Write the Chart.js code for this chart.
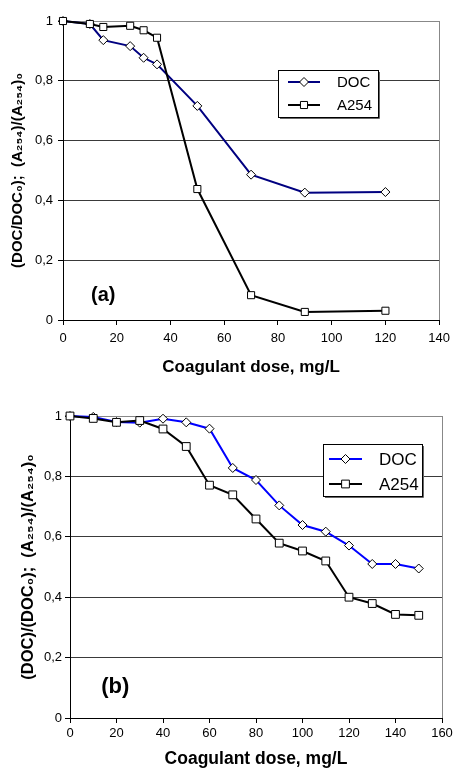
<!DOCTYPE html>
<html><head><meta charset="utf-8">
<script src="https://cdn.jsdelivr.net/npm/chart.js@4"></script>
<style>
html,body{margin:0;padding:0;background:#fff;width:456px;height:774px;overflow:hidden}
#wa{position:absolute;left:0;top:0;width:456px;height:385px}
#wb{position:absolute;left:0;top:385px;width:456px;height:389px}
</style></head><body>
<div id="wa"><canvas id="ca"></canvas></div>
<div id="wb"><canvas id="cb"></canvas></div>
<script>
// ---- data ----
const seriesNames = ['DOC', 'A254'];
const doseA = [0, 10, 15, 25, 30, 35, 50, 70, 90, 120];
const docA  = [1.0, 0.99, 0.936, 0.916, 0.877, 0.855, 0.716, 0.486, 0.426, 0.428];
const a254A = [1.0, 0.99, 0.98, 0.984, 0.969, 0.944, 0.438, 0.083, 0.027, 0.031];
const doseB = [0, 10, 20, 30, 40, 50, 60, 70, 80, 90, 100, 110, 120, 130, 140, 150];
const docB  = [1.0, 0.997, 0.98, 0.978, 0.991, 0.979, 0.958, 0.828, 0.788, 0.704, 0.639, 0.617, 0.571, 0.51, 0.51, 0.495];
const a254B = [1.0, 0.992, 0.979, 0.985, 0.957, 0.899, 0.771, 0.739, 0.659, 0.579, 0.553, 0.52, 0.40, 0.379, 0.343, 0.34];
const yTickLabels = ['0', '0,2', '0,4', '0,6', '0,8', '1'];
const xTitle = 'Coagulant dose, mg/L';
const yTitleA = '(DOC/DOC₀);  (A₂₅₄)/(A₂₅₄)₀';
const yTitleB = '(DOC)/(DOC₀);  (A₂₅₄)/(A₂₅₄)₀';
const panelLabelA = '(a)';
const panelLabelB = '(b)';

const FAM = '"Liberation Sans", Arial, Helvetica, sans-serif';

const boxLegend = {
  id: 'boxLegend',
  afterDraw(chart, args, o) {
    const {ctx, chartArea: a} = chart;
    const x0 = Math.round(a.left + o.dx), y0 = Math.round(a.top + o.dy);
    ctx.save();
    ctx.fillStyle = '#fff';
    ctx.fillRect(x0, y0, o.w, o.h);
    ctx.strokeStyle = '#000'; ctx.lineWidth = 1;
    ctx.strokeRect(x0 + 0.5, y0 + 0.5, o.w, o.h);
    ctx.strokeStyle = '#666';
    ctx.beginPath();
    ctx.moveTo(x0 + o.w + 1.5, y0 + 2); ctx.lineTo(x0 + o.w + 1.5, y0 + o.h + 1.5); ctx.lineTo(x0 + 2, y0 + o.h + 1.5);
    ctx.stroke();
    chart.data.datasets.forEach((ds, i) => {
      const y = y0 + o.rows[i];
      ctx.strokeStyle = ds.borderColor; ctx.lineWidth = ds.borderWidth;
      ctx.beginPath(); ctx.moveTo(x0 + o.l1, y); ctx.lineTo(x0 + o.l2, y); ctx.stroke();
      ctx.fillStyle = '#fff'; ctx.strokeStyle = '#000'; ctx.lineWidth = 1;
      Chart.helpers.drawPoint(ctx, {pointStyle: ds.pointStyle, radius: ds.pointRadius, borderWidth: 1, rotation: 0}, x0 + (o.l1 + o.l2) / 2, y);
      ctx.fillStyle = '#000';
      ctx.font = o.fontSize + 'px ' + FAM;
      ctx.textBaseline = 'middle'; ctx.textAlign = 'left';
      ctx.fillText(ds.label, x0 + o.tx, y + 1);
    });
    ctx.restore();
  }
};

const panelLabel = {
  id: 'panelLabel',
  afterDatasetsDraw(chart, args, o) {
    const {ctx, scales} = chart;
    ctx.save();
    ctx.fillStyle = '#000';
    ctx.font = 'bold ' + o.size + 'px ' + FAM;
    ctx.textAlign = 'center'; ctx.textBaseline = 'middle';
    ctx.fillText(o.text, scales.x.getPixelForValue(o.x), scales.y.getPixelForValue(o.y));
    ctx.restore();
  }
};

function makeChart(id, c) {
  const pts = (xs, ys) => xs.map((x, i) => ({x: x, y: ys[i]}));
  return new Chart(document.getElementById(id), {
    type: 'scatter',
    data: {
      datasets: [
        {label: seriesNames[0], data: pts(c.dose, c.doc), showLine: true, borderColor: c.docColor, borderWidth: 2,
         pointStyle: 'rectRot', pointRadius: c.diamondR, pointBackgroundColor: '#fff', pointBorderColor: '#000',
         pointBorderWidth: 1, clip: false, order: 1},
        {label: seriesNames[1], data: pts(c.dose, c.a254), showLine: true, borderColor: '#000', borderWidth: 2,
         pointStyle: 'rect', pointRadius: c.squareR, pointBackgroundColor: '#fff', pointBorderColor: '#000',
         pointBorderWidth: 1, clip: false, order: 0}
      ]
    },
    options: {
      responsive: true, maintainAspectRatio: false, animation: false, devicePixelRatio: 1,
      layout: {padding: {left: 0, right: c.padR, top: c.padT, bottom: 0}},
      plugins: {
        legend: {display: false}, tooltip: {enabled: false},
        boxLegend: c.legend,
        panelLabel: c.panel
      },
      scales: {
        x: {
          type: 'linear', min: 0, max: c.xMax,
          ticks: {stepSize: 20, color: '#000', font: {family: FAM, size: c.tickSize}, padding: c.xTickPad, maxRotation: 0, autoSkip: false},
          grid: {color: ctx => (ctx.tick && ctx.tick.value === c.xMax) ? '#888' : 'rgba(0,0,0,0)',
                 tickColor: '#000', tickLength: 5, drawTicks: true, lineWidth: 1},
          border: {color: '#000', width: 1},
          title: {display: true, text: xTitle, color: '#000', font: {family: FAM, size: c.xTitleSize, weight: 'bold'}, padding: {top: 0, bottom: c.xTitlePad}},
          afterFit: s => { s.height = c.xAxisH; }
        },
        y: {
          min: 0, max: 1,
          ticks: {stepSize: 0.2, color: '#000', font: {family: FAM, size: c.tickSize}, padding: c.yTickPad,
                  callback: (v, i) => yTickLabels[i]},
          grid: {color: ctx => { const v = ctx.tick ? ctx.tick.value : 0; return Math.abs(v - 1) < 1e-6 ? '#888' : (v < 1e-6 ? '#000' : '#3a3a3a'); },
                 tickColor: '#000', tickLength: 5, drawTicks: true, lineWidth: 1},
          border: {color: '#000', width: 1},
          title: {display: true, text: c.yTitle, color: '#000', font: {family: FAM, size: c.yTitleSize, weight: 'bold'}, padding: {top: c.yTitlePad, bottom: 0}},
          afterFit: s => { s.width = c.yAxisW; }
        }
      }
    },
    plugins: [boxLegend, panelLabel]
  });
}

makeChart('ca', {
  dose: doseA, doc: docA, a254: a254A, docColor: '#000080', xMax: 140,
  diamondR: 4.5, squareR: 5, padR: 12, padT: 21, xAxisH: 65, yAxisW: 63,
  tickSize: 13, xTickPad: 6, yTickPad: 5, xTitleSize: 17, xTitlePad: 7, yTitle: yTitleA, yTitleSize: 15, yTitlePad: 9,
  legend: {dx: 215, dy: 49, w: 100, h: 47, rows: [12, 35], l1: 10, l2: 42, tx: 59, fontSize: 15},
  panel: {text: panelLabelA, x: 15, y: 0.082, size: 20}
});

makeChart('cb', {
  dose: doseB, doc: docB, a254: a254B, docColor: '#0000ff', xMax: 160,
  diamondR: 4.5, squareR: 5.5, padR: 14, padT: 31, xAxisH: 56, yAxisW: 70,
  tickSize: 13, xTickPad: 3, yTickPad: 3, xTitleSize: 17.5, xTitlePad: 4, yTitle: yTitleB, yTitleSize: 16.5, yTitlePad: 19,
  legend: {dx: 253, dy: 28, w: 99, h: 52, rows: [15, 40], l1: 6, l2: 39, tx: 56, fontSize: 17},
  panel: {text: panelLabelB, x: 19.5, y: 0.104, size: 22}
});
</script>
</body></html>
